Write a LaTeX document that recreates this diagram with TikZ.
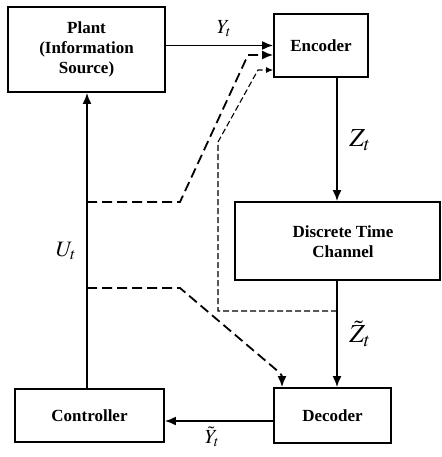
\documentclass[tikz,border=0pt]{standalone}
\usepackage{mathptmx}
\usepackage{fontspec}
\setmainfont{Liberation Serif}
\usetikzlibrary{arrows.meta}
\begin{document}
\begin{tikzpicture}[x=1pt,y=-1pt,
  blk/.style={draw,line width=1.8pt,inner sep=0pt,font=\fontsize{17}{20}\selectfont\bfseries,align=center},
  conn/.style={line width=1.8pt,-{Latex[length=11pt,width=9pt]}},
  thickdash/.style={line width=1.8pt,dash pattern=on 10pt off 5pt},
  thindash/.style={line width=1.1pt,dash pattern=on 6pt off 3pt},
  lbl/.style={inner sep=0pt}]
\useasboundingbox (0,0) rectangle (441,457);
\node[blk,minimum width=157pt,minimum height=85pt] (plant) at (86.5,49.5) {Plant\\(Information\\Source)};
\node[blk,minimum width=94pt,minimum height=63pt] (encoder) at (321,45.5) {Encoder};
\node[blk,minimum width=205pt,minimum height=78pt] (channel) at (337.5,241) {};
\node[lbl,font=\fontsize{17}{20}\selectfont\bfseries,align=center] (chtext) at (343,242) {Discrete Time\\Channel};
\node[blk,minimum width=117pt,minimum height=55pt] (decoder) at (332.5,415.5) {Decoder};
\node[blk,minimum width=149pt,minimum height=53pt] (controller) at (89.5,415.5) {Controller};
\coordinate (zx) at (337,0);
\coordinate (ux) at (87,0);
\coordinate (yy) at (0,421);
\coordinate (j1) at (337,311);
\coordinate (a1) at (87,202);
\coordinate (a2) at (180,202);
\coordinate (a3) at (248,55);
\coordinate (b1) at (87,288);
\coordinate (b2) at (180,288);
\coordinate (b3) at (280,373);
\coordinate (b4) at (282,379);
\coordinate (c1) at (218,311);
\coordinate (c2) at (218,142);
\coordinate (c3) at (258,70);
% solid connectors
\draw[conn] (plant.east |- encoder.west) -- (encoder.west);
\draw[conn] (encoder.south -| zx) -- (channel.north -| zx);
\draw[conn] (channel.south -| zx) -- (decoder.north -| zx);
\draw[conn] (decoder.west |- yy) -- (controller.east |- yy);
\draw[conn] (controller.north -| ux) -- (plant.south -| ux);
% dashed
\draw[thickdash] (a1) -- (a2) -- (a3) -- ([xshift=-10pt]encoder.west |- a3);
\draw[conn] ([xshift=-10pt]encoder.west |- a3) -- (encoder.west |- a3);
\draw[thickdash] (b1) -- (b2) -- (b3) to[out=-40,in=90] (b4);
\draw[conn] (b4) -- (b4 |- decoder.north);
\draw[thindash] (j1) -- (c1) -- (c2) -- (c3) -- ([xshift=-7pt]encoder.west |- c3);
\draw[line width=1.1pt,-{Latex[length=7pt,width=6pt]}] ([xshift=-7pt]encoder.west |- c3) -- (encoder.west |- c3);
% labels
\node[lbl,font=\fontsize{20}{22}\selectfont] (ly) at (224,29) {$Y_t$};
\node[lbl,font=\fontsize{26}{28}\selectfont] (lz) at (360,140) {$Z_t$};
\node[lbl,font=\fontsize{22}{24}\selectfont] (lu) at (66,251) {$U_t$};
\node[lbl,font=\fontsize{26}{28}\selectfont] (lzt) at (360,334) {$\tilde{Z}_t$};
\node[lbl,font=\fontsize{20}{22}\selectfont] (lyt) at (212,437) {$\tilde{Y}_t$};
\end{tikzpicture}
\end{document}
